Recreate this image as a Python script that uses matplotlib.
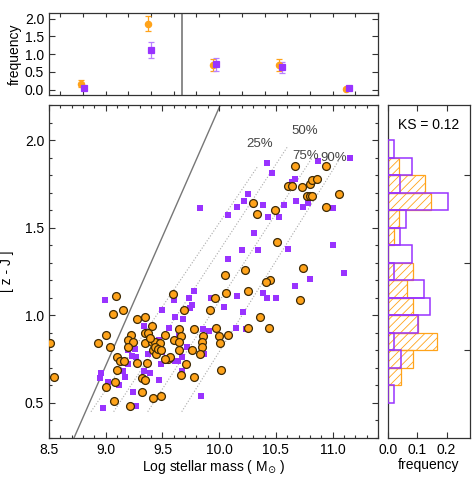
import matplotlib
matplotlib.use('Agg')
import matplotlib.pyplot as plt
from matplotlib.ticker import MultipleLocator, NullFormatter
import numpy as np

plt.rcParams['font.family'] = ['Liberation Sans', 'DejaVu Sans']
plt.rcParams['hatch.linewidth'] = 0.6

ORANGE = '#FFA31A'
PURPLE = '#9933FF'

# scatter: orange circles (x = log stellar mass, y = z - J)
orange_x = [8.51, 8.54, 9.09, 9.06, 9.15, 9.00, 8.93, 9.04, 9.28, 9.35, 9.41, 9.22, 9.20, 9.24,
            9.35, 9.37, 9.35, 9.41, 9.43, 9.48, 9.52, 9.60, 9.65, 9.66, 9.65, 9.65, 9.59, 9.69,
            9.78, 9.86, 9.85, 9.85, 9.83, 9.76, 9.92, 9.96, 10.06, 9.97, 10.00, 10.01, 10.08, 10.02,
            9.10, 9.13, 9.16, 9.10, 9.08, 9.00, 9.07, 9.21, 9.32, 9.42, 9.49, 9.32, 9.35, 9.28,
            9.36, 9.42, 9.44, 9.55, 9.57, 9.66, 9.71, 9.78, 9.52, 9.39, 9.43, 9.46, 9.49, 9.20,
            10.25, 10.36, 10.25, 10.44, 10.71, 10.45, 10.41, 10.23, 10.74, 10.05, 10.51, 10.30,
            10.33, 10.49, 10.94, 10.67, 10.94, 10.61, 10.64, 10.73, 10.80, 10.82, 10.86, 10.77,
            10.80, 10.82, 11.06]
orange_y = [0.84, 0.65, 1.11, 1.01, 1.03, 0.89, 0.84, 0.82, 0.98, 0.99, 0.94, 0.89, 0.86, 0.85,
            0.90, 0.90, 0.84, 0.85, 0.85, 0.84, 0.89, 0.86, 0.92, 0.88, 0.85, 0.80, 1.12, 1.03,
            0.92, 0.88, 0.85, 0.82, 0.78, 0.80, 1.03, 1.10, 1.13, 0.93, 0.88, 0.84, 0.89, 0.69,
            0.76, 0.74, 0.74, 0.69, 0.62, 0.59, 0.51, 0.48, 0.56, 0.53, 0.54, 0.64, 0.63, 0.73,
            0.73, 0.80, 0.78, 0.75, 0.76, 0.66, 0.72, 0.65, 0.75, 0.87, 0.82, 0.81, 0.80, 0.82,
            1.14, 0.99, 0.93, 0.93, 1.09, 1.20, 1.19, 1.26, 1.27, 1.23, 1.42, 1.64,
            1.58, 1.60, 1.62, 1.85, 1.85, 1.74, 1.74, 1.73, 1.75, 1.77, 1.78, 1.68,
            1.68, 1.68, 1.69]

# scatter: purple squares
purple_x = [8.99, 9.50, 9.60, 9.73, 9.76, 9.74, 9.93, 10.04, 9.61, 9.68, 9.34, 9.56, 9.38, 9.47,
            9.65, 9.86, 9.91, 9.72, 9.87, 9.20, 9.26, 9.23, 9.27, 9.37, 9.45, 9.50, 9.52, 9.49,
            9.61, 9.67, 9.64, 9.67, 9.34, 9.39, 9.47, 9.20, 9.15, 9.17, 9.12, 8.96, 8.95, 9.02,
            9.24, 9.27, 8.98, 9.84, 9.78, 10.16, 10.39, 10.42, 10.50, 10.21, 10.15, 10.24, 10.67,
            10.80, 11.10, 10.08, 10.20, 10.34, 10.61, 11.00, 10.31, 10.08, 10.16, 10.22, 10.25,
            10.39, 10.43, 10.53, 10.57, 10.68, 10.74, 10.78, 11.00, 9.83, 10.42, 10.47, 10.87,
            11.15, 10.67, 10.64]
purple_y = [1.09, 1.03, 1.09, 1.10, 1.06, 1.04, 1.10, 1.05, 0.99, 0.98, 0.94, 0.93, 0.88, 0.86,
            0.88, 0.92, 0.91, 0.82, 0.78, 0.80, 0.81, 0.77, 0.76, 0.78, 0.78, 0.79, 0.74, 0.72,
            0.74, 0.76, 0.74, 0.68, 0.68, 0.67, 0.63, 0.72, 0.68, 0.65, 0.60, 0.67, 0.64, 0.62,
            0.56, 0.48, 0.47, 0.54, 1.14, 1.11, 1.13, 1.10, 1.10, 1.02, 0.93, 0.92, 1.17,
            1.21, 1.24, 1.32, 1.37, 1.37, 1.38, 1.40, 1.47, 1.57, 1.62, 1.65, 1.69,
            1.63, 1.56, 1.56, 1.63, 1.65, 1.62, 1.64, 1.61, 1.61, 1.87, 1.81, 1.88,
            1.90, 1.78, 1.76]

# completeness lines (start, end) and labels
pct_labels = ['25%', '50%', '75%', '90%']
pct_x0 = [8.87, 9.07, 9.37, 9.67]
pct_y0 = [0.45, 0.45, 0.45, 0.45]
pct_x1 = [10.34, 10.60, 10.82, 11.06]
pct_y1 = [1.85, 1.96, 1.90, 1.89]
pct_tx = [10.36, 10.75, 10.76, 11.01]
pct_ty = [1.98, 2.05, 1.91, 1.90]

# solid separation line
sep_x = [8.72, 10.01]
sep_y = [0.30, 2.20]

# top panel: frequency per mass bin
top_x = [8.78, 9.37, 9.95, 10.53, 11.12]
top_orange = [0.17, 1.86, 0.70, 0.70, 0.02]
top_orange_err = [0.10, 0.22, 0.16, 0.16, 0.04]
top_purple = [0.04, 1.11, 0.71, 0.63, 0.06]
top_purple_err = [0.04, 0.22, 0.18, 0.15, 0.05]
top_vline = 9.67

# right panel: histogram of z - J
hist_edges = [0.5, 0.6, 0.7, 0.8, 0.9, 1.0, 1.1, 1.2, 1.3, 1.4, 1.5, 1.6, 1.7, 1.8, 1.9]
hist_orange = [0.0, 0.044, 0.084, 0.168, 0.102, 0.084, 0.064, 0.085, 0.0, 0.019, 0.039,
               0.147, 0.125, 0.039, 0.0]
hist_purple = [0.021, 0.0, 0.044, 0.021, 0.102, 0.143, 0.122, 0.020, 0.083, 0.041, 0.060,
               0.206, 0.041, 0.083, 0.022]

W, H = 473, 479
fig = plt.figure(figsize=(W / 100, H / 100), dpi=100)
ax = fig.add_axes([49 / W, 1 - 438 / H, 329 / W, 333 / H])
axt = fig.add_axes([49 / W, 1 - 95 / H, 329 / W, 82 / H])
axh = fig.add_axes([388 / W, 1 - 438 / H, 82 / W, 333 / H])

FS = 10


def style(a):
    a.tick_params(which='both', direction='in', top=True, right=True, labelsize=FS,
                  color='#333333', width=0.8)
    a.tick_params(which='major', length=4)
    a.tick_params(which='minor', length=2)
    for s in a.spines.values():
        s.set_color('#333333')
        s.set_linewidth(0.9)


# main panel
for x0, y0, x1, y1 in zip(pct_x0, pct_y0, pct_x1, pct_y1):
    ax.plot([x0, x1], [y0, y1], ls=':', color='#aaaaaa', lw=0.8, zorder=1)
for t, tx, ty in zip(pct_labels, pct_tx, pct_ty):
    ax.text(tx, ty, t, fontsize=9.5, color='#444444', ha='center', va='center')
ax.plot(sep_x, sep_y, color='#777777', lw=1.0, zorder=1)
ax.scatter(purple_x, purple_y, marker='s', s=24, color=PURPLE, linewidths=0, zorder=2)
ax.scatter(orange_x, orange_y, marker='o', s=32, facecolor=ORANGE, edgecolor='#3d2a05',
           linewidths=0.9, zorder=3)
ax.set_xlim(8.5, 11.4)
ax.set_ylim(0.3, 2.2)
ax.xaxis.set_major_locator(MultipleLocator(0.5))
ax.xaxis.set_minor_locator(MultipleLocator(0.1))
ax.yaxis.set_major_locator(MultipleLocator(0.5))
ax.yaxis.set_minor_locator(MultipleLocator(0.1))
ax.set_xlabel('Log stellar mass ( M$_{\\odot}$ )', fontsize=FS, labelpad=1)
ax.set_ylabel('[ z - J ]', fontsize=FS, labelpad=8)
style(ax)

# top panel
axt.axvline(top_vline, color='#777777', lw=1.2)
xt = np.array(top_x)
axt.errorbar(xt, top_orange, yerr=top_orange_err, fmt='o', color=ORANGE, ms=4.5,
             capsize=2.5, elinewidth=0.9, mew=0.9)
axt.errorbar(xt + 0.025, top_purple, yerr=top_purple_err, fmt='s', color=PURPLE, ms=4,
             ecolor='#b980ff', capsize=2.5, elinewidth=0.9, mew=0.9)
axt.set_xlim(8.5, 11.4)
axt.set_ylim(-0.15, 2.16)
axt.xaxis.set_major_locator(MultipleLocator(0.2))
axt.xaxis.set_major_formatter(NullFormatter())
axt.yaxis.set_major_locator(MultipleLocator(0.5))
axt.set_ylabel('frequency', fontsize=FS, labelpad=2)
style(axt)
axt.tick_params(axis='x', length=3)

# right histogram
axh.barh(hist_edges, hist_orange, height=0.1, align='edge', facecolor='none',
         edgecolor=ORANGE, hatch='////', lw=0.9, zorder=2)
axh.barh(hist_edges, hist_purple, height=0.1, align='edge', facecolor='none',
         edgecolor=PURPLE, lw=1.1, zorder=3)
axh.set_xlim(0, 0.28)
axh.set_ylim(0.3, 2.2)
axh.set_xticks([0.0, 0.1, 0.2])
axh.set_xticklabels(['0.0', '0.1', '0.2'])
axh.set_yticks([0.8, 1.3, 1.8])
axh.yaxis.set_major_formatter(NullFormatter())
axh.set_xlabel('frequency', fontsize=FS, labelpad=1)
axh.text(0.5, 0.94, 'KS = 0.12', transform=axh.transAxes, ha='center', va='center',
         fontsize=FS)
style(axh)

fig.savefig('out.png', dpi=100)
